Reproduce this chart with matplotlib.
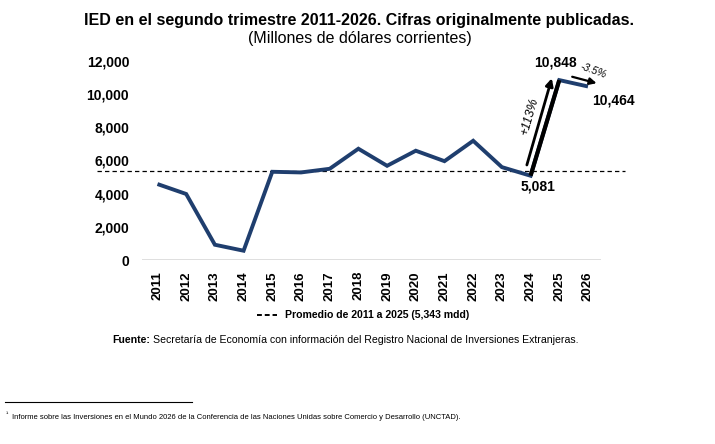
import matplotlib
matplotlib.use("Agg")
import matplotlib.pyplot as plt

plt.rcParams['font.family'] = ['Liberation Sans', 'DejaVu Sans']

years = [2011, 2012, 2013, 2014, 2015, 2016, 2017, 2018, 2019, 2020,
         2021, 2022, 2023, 2024, 2025, 2026]
values = [4580, 3980, 920, 560, 5320, 5280, 5500, 6710, 5680, 6590,
          5960, 7190, 5600, 5081, 10848, 10464]
average = 5343
yticks = [0, 2000, 4000, 6000, 8000, 10000, 12000]
ytick_labels = ["0", "2,000", "4,000", "6,000", "8,000", "10,000", "12,000"]

W, H = 715, 444
fig = plt.figure(figsize=(W / 100, H / 100), dpi=100)

def fx(px):
    return px / W

def fy(py):
    return 1 - py / H

def fit(t, target_px):
    fig.canvas.draw()
    w = t.get_window_extent().width
    t.set_fontsize(t.get_fontsize() * target_px / w)

ax_l, ax_r, ax_t, ax_b = 141.7, 600.9, 61, 260
ax = fig.add_axes([fx(ax_l), fy(ax_b), fx(ax_r - ax_l), (ax_b - ax_t) / H])
ax.set_xlim(2010.45, 2026.45)
ax.set_ylim(0, 12000)
for s in ax.spines.values():
    s.set_visible(False)

line_color = '#1f3e6e'
ax.axhline(0, color='#d9d9d9', lw=1.2, zorder=1)
ax.plot([2008.89, 2027.29], [average, average], color='black', lw=0.9,
        ls=(0, (3.5, 2.5)), clip_on=False, zorder=2)
ax.plot(years, values, color=line_color, lw=2.8, solid_capstyle='butt',
        solid_joinstyle='miter', clip_on=False, zorder=3)
ax.plot(years[-3:-1], values[-3:-1], color='black', lw=3.0,
        solid_capstyle='butt', clip_on=False, zorder=4)

ax.annotate("", xy=(2024.74, 10960), xytext=(2023.87, 5730),
            arrowprops=dict(arrowstyle='-|>', color='black', lw=2.0,
                            mutation_scale=11, shrinkA=0, shrinkB=0),
            annotation_clip=False, zorder=5)
ax.annotate("", xy=(2026.30, 10660), xytext=(2025.45, 11050),
            arrowprops=dict(arrowstyle='-|>', color='black', lw=1.6,
                            mutation_scale=10, shrinkA=0, shrinkB=0),
            annotation_clip=False, zorder=5)

ax.text(2023.95, 8640, "+113%", rotation=74, ha='center', va='center',
        fontsize=9, style='italic', zorder=6)
ax.text(2026.17, 11420, "-3.5%", rotation=-20, ha='center', va='center',
        fontsize=7.5, style='italic', zorder=6)

ax.text(2024.85, 11900, "10,848", ha='center', va='center', fontsize=10,
        fontweight='bold', zorder=6)
ax.text(2026.87, 9590, "10,464", ha='center', va='center', fontsize=10,
        fontweight='bold', zorder=6)
ax.text(2024.25, 4420, "5,081", ha='center', va='center', fontsize=10,
        fontweight='bold', zorder=6)

ax.set_yticks(yticks)
ax.set_yticklabels(ytick_labels, fontsize=10, fontweight='bold')
ax.set_xticks(years)
ax.set_xticklabels([str(y) for y in years], rotation=90, fontsize=9.5,
                   fontweight='bold')
ax.tick_params(axis='y', length=0, pad=9)
ax.tick_params(axis='x', length=0, pad=8)

# titles
fig.text(fx(359.5), fy(21), "IED en el segundo trimestre 2011-2026. Cifras originalmente publicadas.",
         ha='center', va='center', fontsize=11.5, fontweight='bold')
fig.text(fx(359.5), fy(38), "(Millones de dólares corrientes)",
         ha='center', va='center', fontsize=11.5)

# legend
fig.lines.append(plt.Line2D([fx(257), fx(277)], [fy(315), fy(315)],
                            color='black', lw=1.4, ls=(0, (2.5, 1.5)),
                            transform=fig.transFigure))
tl = fig.text(fx(285), fy(315), "Promedio de 2011 a 2025 (5,343 mdd)",
              ha='left', va='center', fontsize=8, fontweight='bold')
fit(tl, 187)

# source
t1 = fig.text(fx(112), fy(340), "Fuente:", ha='left', va='center', fontsize=7.8,
              fontweight='bold')
t2 = fig.text(fx(150), fy(340),
              "Secretaría de Economía con información del Registro Nacional de Inversiones Extranjeras.",
              ha='left', va='center', fontsize=7.8)
fig.canvas.draw()
w1 = t1.get_window_extent().width
w2 = t2.get_window_extent().width
scale = (471 - 3) / (w1 + w2)
t1.set_fontsize(7.8 * scale)
t2.set_fontsize(7.8 * scale)
fig.canvas.draw()
bb = t1.get_window_extent()
t2.set_x((bb.x1 + 3) / W)

# footnote
fig.lines.append(plt.Line2D([fx(5), fx(192)], [fy(401.7), fy(401.7)],
                            color='black', lw=0.8, transform=fig.transFigure))
fig.text(fx(6), fy(414), "¹", ha='left', va='center', fontsize=5)
tf = fig.text(fx(12), fy(417),
              "Informe sobre las Inversiones en el Mundo 2026 de la Conferencia de las Naciones Unidas sobre Comercio y Desarrollo (UNCTAD).",
              ha='left', va='center', fontsize=6)
fit(tf, 450)

fig.savefig("out.png", dpi=100, facecolor='white')
